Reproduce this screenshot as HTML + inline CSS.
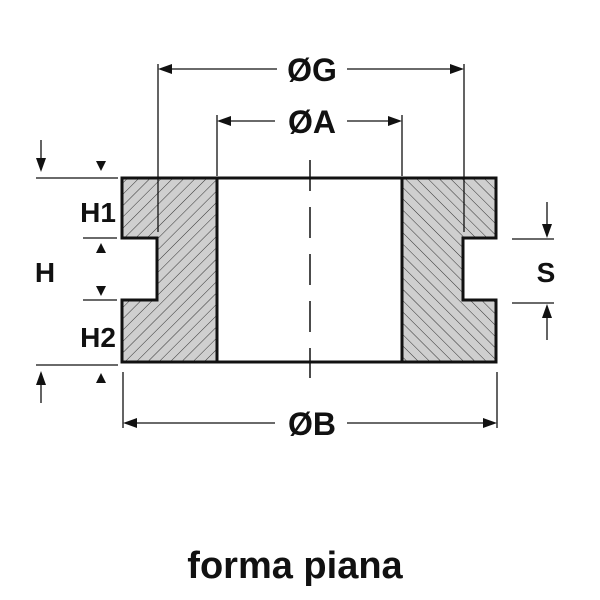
<!DOCTYPE html>
<html><head><meta charset="utf-8"><style>
html,body{margin:0;padding:0;background:#fff}
svg{display:block}
text{font-family:"Liberation Sans",sans-serif;font-weight:bold;fill:#111}
</style></head><body>
<svg width="600" height="600" viewBox="0 0 600 600" xmlns="http://www.w3.org/2000/svg">
<defs>
<pattern id="hl" patternUnits="userSpaceOnUse" width="8" height="8" patternTransform="rotate(45)">
<rect width="8" height="8" fill="#cfcfcf"/><line x1="0" y1="0" x2="0" y2="8" stroke="#333" stroke-width="1"/></pattern>
<pattern id="hr" patternUnits="userSpaceOnUse" width="8" height="8" patternTransform="rotate(-45)">
<rect width="8" height="8" fill="#cfcfcf"/><line x1="0" y1="0" x2="0" y2="8" stroke="#333" stroke-width="1"/></pattern>
</defs>
<polygon points="122,178 217,178 217,362 122,362 122,300 157,300 157,238 122,238" fill="url(#hl)" stroke="#111" stroke-width="3"/>
<polygon points="402,178 496,178 496,238 463,238 463,300 496,300 496,362 402,362" fill="url(#hr)" stroke="#111" stroke-width="3"/>
<line x1="217" y1="178" x2="402" y2="178" stroke="#111" stroke-width="3"/>
<line x1="217" y1="362" x2="402" y2="362" stroke="#111" stroke-width="3"/>
<line x1="310" y1="160" x2="310" y2="378" stroke="#111" stroke-width="1.5" stroke-dasharray="31,16"/>
<g stroke="#111" stroke-width="1.3" fill="none">
<line x1="158" y1="64" x2="158" y2="232"/><line x1="464" y1="64" x2="464" y2="232"/>
<line x1="170" y1="69" x2="277" y2="69"/><line x1="347" y1="69" x2="452" y2="69"/>
<line x1="217" y1="115" x2="217" y2="176"/><line x1="402" y1="115" x2="402" y2="176"/>
<line x1="229" y1="121" x2="275" y2="121"/><line x1="347" y1="121" x2="390" y2="121"/>
<line x1="123" y1="372" x2="123" y2="428"/><line x1="497" y1="372" x2="497" y2="428"/>
<line x1="135" y1="423" x2="275" y2="423"/><line x1="347" y1="423" x2="485" y2="423"/>
<line x1="36" y1="178" x2="118" y2="178"/><line x1="36" y1="365" x2="118" y2="365"/>
<line x1="83" y1="238" x2="117" y2="238"/><line x1="83" y1="300" x2="117" y2="300"/>
<line x1="41" y1="140" x2="41" y2="160"/><line x1="41" y1="383" x2="41" y2="403"/>
<line x1="512" y1="239" x2="554" y2="239"/><line x1="512" y1="303" x2="554" y2="303"/>
<line x1="547" y1="202" x2="547" y2="226"/><line x1="547" y1="316" x2="547" y2="340"/>
</g>
<g fill="#111">
<polygon points="158,69 172,64 172,74"/><polygon points="464,69 450,64 450,74"/>
<polygon points="217,121 231,116 231,126"/><polygon points="402,121 388,116 388,126"/>
<polygon points="123,423 137,418 137,428"/><polygon points="497,423 483,418 483,428"/>
<polygon points="41,172 36,158 46,158"/><polygon points="101,171 96,161 106,161"/>
<polygon points="41,371 36,385 46,385"/><polygon points="101,373 96,383 106,383"/>
<polygon points="101,243 96,253 106,253"/><polygon points="101,296 96,286 106,286"/>
<polygon points="547,238 542,224 552,224"/><polygon points="547,304 542,318 552,318"/>
</g>
<text x="312" y="81" font-size="32" text-anchor="middle">ØG</text>
<text x="312" y="133" font-size="32" text-anchor="middle">ØA</text>
<text x="312" y="435" font-size="32" text-anchor="middle">ØB</text>
<text x="98" y="222" font-size="28" text-anchor="middle">H1</text>
<text x="45" y="282" font-size="28" text-anchor="middle">H</text>
<text x="98" y="347" font-size="28" text-anchor="middle">H2</text>
<text x="546" y="282" font-size="28" text-anchor="middle">S</text>
<text x="295" y="578" font-size="38" text-anchor="middle">forma piana</text>
</svg>
</body></html>
